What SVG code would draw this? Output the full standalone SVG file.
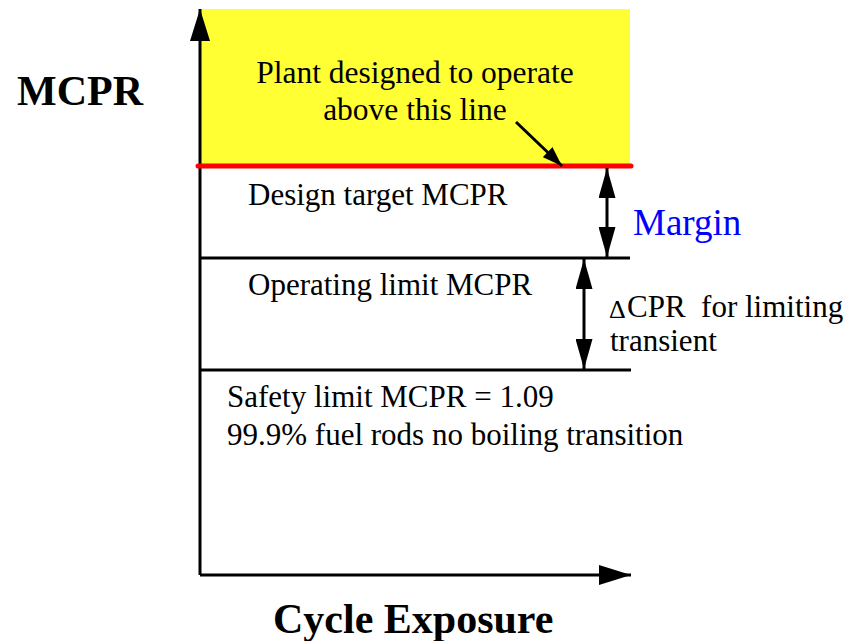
<svg xmlns="http://www.w3.org/2000/svg" width="849" height="641" viewBox="0 0 849 641">
<style>
text{fill:#000}
.lbl{font-size:31px}
.bold{font-weight:bold;font-size:42px}
.ln{stroke:#000;stroke-width:3;fill:none}
</style>
<defs>
<marker id="ah" markerWidth="32" markerHeight="20" viewBox="0 0 32 20" refX="32" refY="10" markerUnits="userSpaceOnUse" orient="auto-start-reverse">
<path d="M0,0 L32,10 L0,20 Z" fill="#000"/>
</marker>
<marker id="sh" markerWidth="30" markerHeight="17" viewBox="0 0 30 17" refX="30" refY="8.5" markerUnits="userSpaceOnUse" orient="auto-start-reverse">
<path d="M0,0 L30,8.5 L0,17 Z" fill="#000"/>
</marker>
<marker id="dh" markerWidth="20" markerHeight="14" viewBox="0 0 20 14" refX="20" refY="7" markerUnits="userSpaceOnUse" orient="auto">
<path d="M0,0 L20,7 L0,14 Z" fill="#000"/>
</marker>
</defs>
<g id="region">
<rect x="200" y="9" width="430" height="157" fill="#ffff33"/>
</g>
<g id="axes">
<line class="ln" x1="200" y1="575" x2="200" y2="9" marker-end="url(#ah)"/>
<line class="ln" x1="200" y1="575" x2="631" y2="575" marker-end="url(#ah)"/>
</g>
<g id="levels">
<line x1="198" y1="166" x2="631" y2="166" stroke="#ff0000" stroke-width="5" stroke-linecap="round"/>
<line class="ln" x1="200" y1="258" x2="630" y2="258"/>
<line class="ln" x1="200" y1="370" x2="631" y2="370"/>
</g>
<g id="connectors">
<line class="ln" x1="607" y1="168" x2="607" y2="257" marker-start="url(#sh)" marker-end="url(#sh)"/>
<line class="ln" x1="584" y1="259" x2="584" y2="369" marker-start="url(#sh)" marker-end="url(#sh)"/>
<line class="ln" x1="516" y1="122" x2="562" y2="166" marker-end="url(#dh)"/>
</g>
<g id="labels" font-family="Liberation Serif, DejaVu Serif, serif">
<text x="17" y="105" class="bold">MCPR</text>
<text x="415" y="83" text-anchor="middle" style="font-size:31.5px">Plant designed to operate</text>
<text x="415" y="120" text-anchor="middle" style="font-size:31.5px">above this line</text>
<text x="248" y="205" class="lbl">Design target MCPR</text>
<text x="633" y="235" style="font-size:37px;fill:#0000ff">Margin</text>
<text x="248" y="295" class="lbl">Operating limit MCPR</text>
<text x="609" y="318" style="font-size:26px">Δ</text>
<text x="627" y="317" class="lbl" xml:space="preserve">CPR  for limiting</text>
<text x="610" y="351" class="lbl">transient</text>
<text x="227" y="407" class="lbl">Safety limit MCPR = 1.09</text>
<text x="227" y="445" class="lbl">99.9% fuel rods no boiling transition</text>
<text x="273" y="633" class="bold">Cycle Exposure</text>
</g>
</svg>
